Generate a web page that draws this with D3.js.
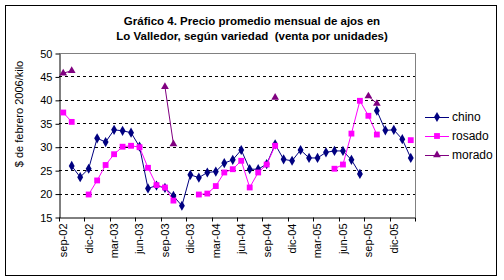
<!DOCTYPE html>
<html>
<head>
<meta charset="utf-8">
<script src="https://cdnjs.cloudflare.com/ajax/libs/d3/7.8.5/d3.min.js"></script>
<style>
    body { margin: 0; background: #fff; }
    text { font-family: Arial, "Liberation Sans", sans-serif; fill: #000; }
    .title { font-size: 11.5px; font-weight: bold; }
    .tick text { font-size: 11px; }
    .legend text { font-size: 12px; }
</style>
</head>
<body>
<div id="chart"></div>
<script>
// months sep-02 .. feb-06
let months = ["sep-02","oct-02","nov-02","dic-02","ene-03","feb-03","mar-03","abr-03","may-03","jun-03",
    "jul-03","ago-03","sep-03","oct-03","nov-03","dic-03","ene-04","feb-04","mar-04","abr-04",
    "may-04","jun-04","jul-04","ago-04","sep-04","oct-04","nov-04","dic-04","ene-05","feb-05",
    "mar-05","abr-05","may-05","jun-05","jul-05","ago-05","sep-05","oct-05","nov-05","dic-05",
    "ene-06","feb-06"];

let chino = [null, 25.9, 23.5, 25.3, 31.8, 31.0, 33.6, 33.4, 33.0, 30.0,
    21.1, 21.7, 21.2, 19.5, 17.4, 24.0, 23.4, 24.5, 24.7, 26.5,
    27.2, 29.3, 25.2, 25.2, 26.3, 30.5, 27.3, 27.0, 29.3, 27.6,
    27.6, 28.8, 29.1, 29.1, 27.2, 24.2, null, 37.7, 33.5, 33.6,
    31.6, 27.6];

let rosado = [37.3, 35.3, null, 19.8, 22.8, 26.1, 28.4, 30.0, 30.2, 29.9,
    25.5, 21.8, 21.3, 18.5, null, null, 19.8, 20.0, 21.6, 24.5,
    25.2, 27.0, 21.3, 24.5, 26.2, 30.2, null, null, null, null,
    null, null, 25.3, 26.2, 32.8, 39.8, 36.6, 32.6, null, null,
    null, 31.4];

let morado = [45.7, 46.2, null, null, null, null, null, null, null, null,
    null, null, 42.8, 30.6, null, null, null, null, null, null,
    null, null, null, null, null, 40.5, null, null, null, null,
    null, null, null, null, null, null, 40.8, 39.2, null, null,
    null, null];

let yTicks = [15, 20, 25, 30, 35, 40, 45, 50];
let xLabels = months.filter((m, i) => i % 3 == 0);

let series = [
    {name: "chino", values: chino, color: "#000080", symbol: d3.symbolDiamond, size: 30},
    {name: "rosado", values: rosado, color: "#FF00FF", symbol: d3.symbolSquare, size: 34},
    {name: "morado", values: morado, color: "#800080", symbol: d3.symbolTriangle, size: 26}
];

let width = 504, height = 280;
let plot = {left: 59, right: 415, top: 53, bottom: 217};

let svg = d3.select("#chart").append("svg")
    .attr("width", width)
    .attr("height", height);

// outer frame
svg.append("rect")
    .attr("x", 5.5).attr("y", 5.5)
    .attr("width", 491).attr("height", 270)
    .attr("fill", "#fff")
    .attr("stroke", "#000");

// title
svg.append("text").classed("title", true)
    .attr("x", 252).attr("y", 25)
    .attr("text-anchor", "middle")
    .text("Gráfico 4. Precio promedio mensual de ajos en");
svg.append("text").classed("title", true)
    .attr("x", 252).attr("y", 40)
    .attr("text-anchor", "middle")
    .attr("xml:space", "preserve")
    .text("Lo Valledor, según variedad  (venta por unidades)");

let xScale = d3.scaleBand()
    .domain(months)
    .range([plot.left, plot.right])
    .padding(0);

let yScale = d3.scaleLinear()
    .domain([15, 50])
    .range([plot.bottom, plot.top]);

// dashed gridlines
svg.append("g").selectAll("line")
    .data(yTicks.filter(d => d > 15 && d < 50))
    .enter().append("line")
    .attr("x1", plot.left).attr("x2", plot.right)
    .attr("y1", d => Math.round(yScale(d)) + 0.5)
    .attr("y2", d => Math.round(yScale(d)) + 0.5)
    .attr("stroke", "#000")
    .attr("stroke-dasharray", "3,3");

// gray top and right frame of the plot
svg.append("path")
    .attr("d", `M${plot.left},${plot.top + 0.5}H${plot.right + 0.5}V${plot.bottom}`)
    .attr("fill", "none")
    .attr("stroke", "#808080");

// y axis
let yAxis = svg.append("g")
    .attr("transform", `translate(${plot.left + 0.5},0.5)`)
    .call(d3.axisLeft(yScale).tickValues(yTicks).tickSize(4).tickSizeOuter(0).tickPadding(3));
yAxis.selectAll("path, line").attr("stroke", "#000");
yAxis.selectAll("text").style("font-family", "Arial, 'Liberation Sans', sans-serif");

// x axis: labels centred on categories, ticks on category boundaries
let xAxis = svg.append("g")
    .attr("transform", `translate(0,${plot.bottom + 0.5})`)
    .call(d3.axisBottom(xScale).tickValues(xLabels).tickSize(0).tickSizeOuter(0));
xAxis.select(".domain").attr("stroke", "#000");
xAxis.selectAll("text")
    .style("font-family", "Arial, 'Liberation Sans', sans-serif")
    .attr("transform", "rotate(-90)")
    .attr("text-anchor", "end")
    .attr("x", -6)
    .attr("y", 0)
    .attr("dy", "0.35em");

let boundaries = xLabels.map(m => xScale(m)).concat([xScale.range()[1]]);
xAxis.selectAll(".bound")
    .data(boundaries)
    .enter().append("line").classed("bound", true)
    .attr("x1", d => Math.round(d) + 0.5).attr("x2", d => Math.round(d) + 0.5)
    .attr("y1", 0).attr("y2", 4)
    .attr("stroke", "#000");

// y axis title
svg.append("text")
    .attr("transform", "translate(23,114) rotate(-90)")
    .attr("text-anchor", "middle")
    .style("font-size", "11px")
    .text("$ de febrero 2006/kilo");

// series lines + markers
let cx = i => xScale(months[i]) + xScale.bandwidth() / 2;
let line = d3.line()
    .defined(d => d != null)
    .x((d, i) => cx(i))
    .y(d => yScale(d));

series.forEach(s => {
    let g = svg.append("g");
    g.append("path")
        .datum(s.values)
        .attr("d", line)
        .attr("fill", "none")
        .attr("stroke", s.color)
        .attr("stroke-width", 1);
    g.selectAll("path.mark")
        .data(s.values.map((v, i) => ({v: v, i: i})).filter(d => d.v != null))
        .enter().append("path").classed("mark", true)
        .attr("d", d3.symbol().type(s.symbol).size(s.size))
        .attr("transform", d => `translate(${cx(d.i)},${yScale(d.v)})`)
        .attr("fill", s.color);
});

// legend
let legend = svg.append("g").classed("legend", true);
series.forEach((s, k) => {
    let y = 117 + k * 19;
    legend.append("line")
        .attr("x1", 425).attr("x2", 449)
        .attr("y1", y + 0.5).attr("y2", y + 0.5)
        .attr("stroke", s.color);
    legend.append("path")
        .attr("d", d3.symbol().type(s.symbol).size(s.size))
        .attr("transform", `translate(437,${y})`)
        .attr("fill", s.color);
    legend.append("text")
        .attr("x", 452).attr("y", y)
        .attr("dy", "0.35em")
        .style("font-size", "12px")
        .text(s.name);
});
</script>
</body>
</html>
